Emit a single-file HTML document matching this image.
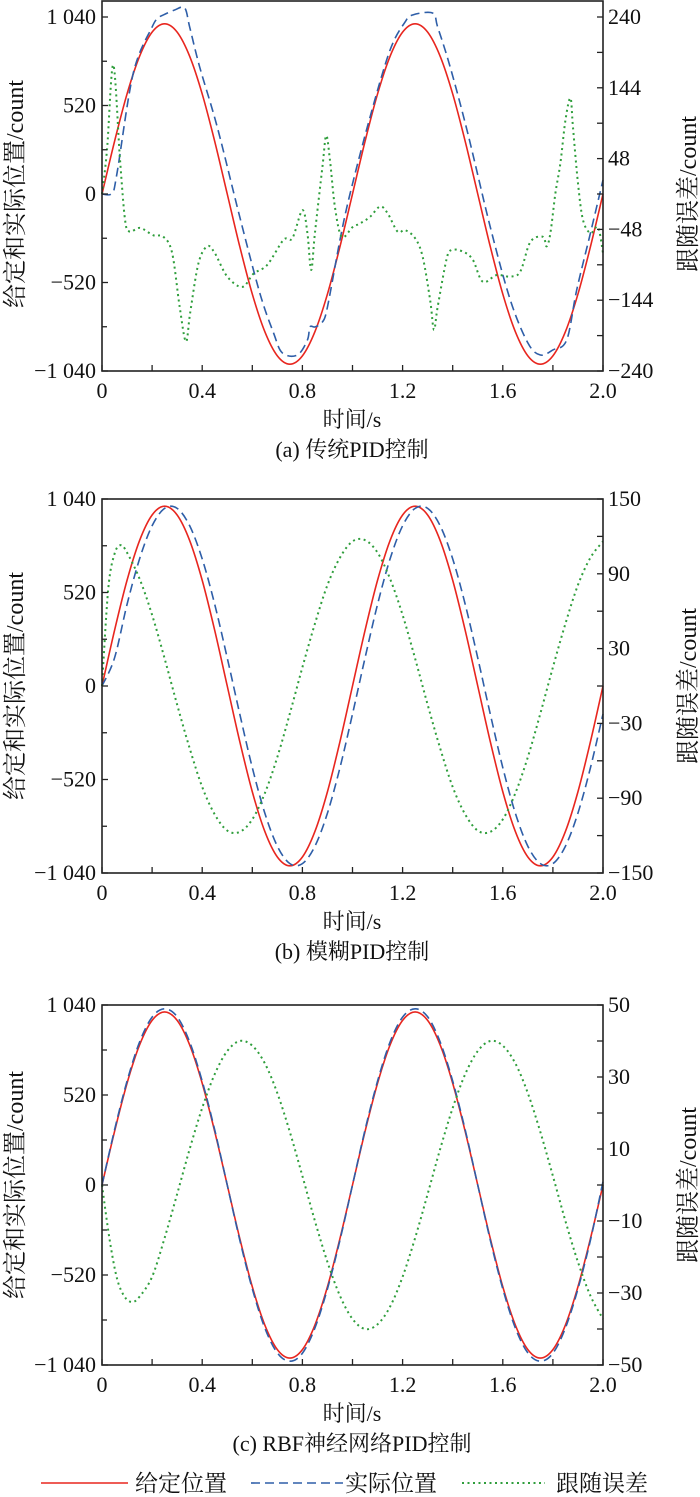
<!DOCTYPE html>
<html><head><meta charset="utf-8">
<style>
html,body{margin:0;padding:0;background:#fff;}
svg{display:block;}
text{font-family:"Liberation Serif","Noto Serif CJK SC","Noto Sans CJK SC",serif;fill:#111;}
</style></head>
<body>
<svg id="chart" width="700" height="1497" viewBox="0 0 700 1497" xmlns="http://www.w3.org/2000/svg">
<g id="legend">
  <g>
    <line x1="41" y1="1483" x2="128" y2="1483" stroke="#e8261f" stroke-width="1.6"/>
    <text x="135" y="1491" font-size="23">给定位置</text>
  </g>
  <g>
    <line x1="251" y1="1483" x2="343" y2="1483" stroke="#2e5ea8" stroke-width="1.6" stroke-dasharray="9,5"/>
    <text x="345" y="1491" font-size="23">实际位置</text>
  </g>
  <g>
    <line x1="462" y1="1483" x2="545" y2="1483" stroke="#2f9e3c" stroke-width="2" stroke-dasharray="2,3.5"/>
    <text x="556" y="1491" font-size="23">跟随误差</text>
  </g>
</g>
</svg>
<script>
// ---------- shared data ----------
const xTicks = [0,0.2,0.4,0.6,0.8,1.0,1.2,1.4,1.6,1.8,2.0];
const xTickLabels = ["0","","0.4","","0.8","","1.2","","1.6","","2.0"];
const leftTicks = [1040,780,520,260,0,-260,-520,-780,-1040];
const leftTickLabels = ["1 040","","520","","0","","−520","","−1 040"];
const tGrid = [0,0.05,0.1,0.15,0.2,0.25,0.3,0.35,0.4,0.45,0.5,0.55,0.6,0.65,0.7,0.75,0.8,0.85,0.9,0.95,1.0,1.05,1.1,1.15,1.2,1.25,1.3,1.35,1.4,1.45,1.5,1.55,1.6,1.65,1.7,1.75,1.8,1.85,1.9,1.95,2.0];
const givenValues = [0,309,588,809,951,1000,951,809,588,309,0,-309,-588,-809,-951,-1000,-951,-809,-588,-309,0,309,588,809,951,1000,951,809,588,309,0,-309,-588,-809,-951,-1000,-951,-809,-588,-309,0];

// ---------- panel (a) ----------
const aRightTicks = [240,192,144,96,48,0,-48,-96,-144,-192,-240];
const aRightTickLabels = ["240","","144","","48","","−48","","−144","","−240"];
const aActualT = [0,0.04,0.06,0.125,0.2,0.225,0.245,0.29,0.33,0.35,0.39,0.46,0.55,0.63,0.685,0.72,0.78,0.82,0.83,0.85,0.88,0.9,0.95,0.99,1.07,1.15,1.21,1.24,1.32,1.34,1.39,1.46,1.55,1.63,1.7,1.75,1.8,1.855,1.895,1.95,2.0];
const aActualV = [0,5,123,711,981,1034,1052,1081,1093,981,746,394,-135,-582,-817,-934,-946,-858,-781,-781,-752,-664,-270,0,452,846,1011,1052,1063,981,746,358,-194,-623,-875,-946,-916,-858,-564,-229,82];
const aErrorT = [0,0.02,0.045,0.072,0.092,0.11,0.152,0.205,0.245,0.28,0.31,0.335,0.352,0.385,0.42,0.45,0.5,0.56,0.605,0.66,0.725,0.76,0.8,0.82,0.835,0.85,0.88,0.895,0.91,0.93,0.957,1.0,1.03,1.07,1.11,1.14,1.18,1.21,1.25,1.28,1.31,1.325,1.34,1.375,1.395,1.44,1.48,1.52,1.575,1.63,1.67,1.71,1.76,1.775,1.79,1.81,1.83,1.85,1.87,1.88,1.9,1.92,1.95,1.98,2.0];
const aErrorV = [0,60,175,46,-35,-51,-46,-56,-58,-80,-153,-200,-161,-94,-71,-80,-112,-126,-108,-96,-62,-60,-22,-53,-103,-53,37,79,46,-18,-58,-45,-40,-31,-17,-26,-51,-49,-60,-85,-144,-184,-153,-89,-76,-78,-89,-119,-110,-112,-105,-65,-58,-71,-53,1,42,100,130,91,15,-35,-53,-45,-80];

// ---------- panel (b) ----------
const bRightTicks = [150,120,90,60,30,0,-30,-60,-90,-120,-150];
const bRightTickLabels = ["150","","90","","30","","−30","","−90","","−150"];
const bActualV = [0,156,454,707,891,988,988,891,707,454,156,-156,-454,-707,-891,-988,-988,-891,-707,-454,-156,156,454,707,891,988,988,891,707,454,156,-156,-454,-707,-891,-988,-988,-891,-707,-454,-156];
const bErrorT = [0,0.025,0.05,0.075,0.1,0.15,0.2,0.25,0.3,0.35,0.4,0.45,0.5,0.55,0.6,0.65,0.7,0.75,0.8,0.85,0.9,0.95,1.0,1.05,1.1,1.15,1.2,1.25,1.3,1.35,1.4,1.45,1.5,1.55,1.6,1.65,1.7,1.75,1.8,1.85,1.9,1.95,2.0];
const bErrorV = [0,78,106,113,107,86,57,22,-15,-50,-81,-103,-116,-117,-107,-86,-57,-22,15,50,81,103,116,117,107,86,57,22,-15,-50,-81,-103,-116,-117,-107,-86,-57,-22,15,50,81,103,116];

// ---------- panel (c) ----------
const cRightTicks = [50,40,30,20,10,0,-10,-20,-30,-40,-50];
const cRightTickLabels = ["50","","30","","10","","−10","","−30","","−50"];
const cActualV = [0,318,600,826,970,1018,972,826,600,318,0,-318,-600,-826,-970,-1018,-972,-826,-600,-318,0,318,600,826,970,1018,972,826,600,318,0,-318,-600,-826,-970,-1018,-972,-826,-600,-318,20];
const cErrorT = [0,0.03,0.06,0.09,0.12,0.15,0.2,0.25,0.3,0.35,0.4,0.45,0.5,0.55,0.6,0.65,0.7,0.75,0.8,0.85,0.9,0.95,1.0,1.05,1.1,1.15,1.2,1.25,1.3,1.35,1.4,1.45,1.5,1.55,1.6,1.65,1.7,1.75,1.8,1.85,1.9,1.95,2.0];
const cErrorV = [0,-15,-26,-31,-32.5,-31,-25.5,-14.7,-2.5,10,21.4,30.8,37.2,40,38.7,33.8,25.5,14.7,2.5,-10,-21.4,-30.8,-37.2,-40,-38.7,-33.8,-25.5,-14.7,-2.5,10,21.4,30.8,37.2,40,38.7,33.8,25.5,14.7,2.5,-10,-21.4,-30.8,-37.2];

const NS = "http://www.w3.org/2000/svg";
const svg = document.getElementById("chart");
function mk(tag, attrs, parent){
  const e = document.createElementNS(NS, tag);
  for (const k in attrs) e.setAttribute(k, attrs[k]);
  (parent||svg).appendChild(e);
  return e;
}
function smoothPath(pts){
  let d = "M" + pts[0][0].toFixed(2) + "," + pts[0][1].toFixed(2);
  for (let i=0;i<pts.length-1;i++){
    const p0 = pts[i-1]||pts[i], p1 = pts[i], p2 = pts[i+1], p3 = pts[i+2]||p2;
    const c1 = [p1[0]+(p2[0]-p0[0])/6, p1[1]+(p2[1]-p0[1])/6];
    const c2 = [p2[0]-(p3[0]-p1[0])/6, p2[1]-(p3[1]-p1[1])/6];
    d += " C"+c1[0].toFixed(2)+","+c1[1].toFixed(2)+" "+c2[0].toFixed(2)+","+c2[1].toFixed(2)+" "+p2[0].toFixed(2)+","+p2[1].toFixed(2);
  }
  return d;
}

function drawPanel(cfg){
  const g = mk("g", {});
  
  
  const L=102, R=603;
  const xS = t => L + (t/2)*(R-L);
  const yL = v => cfg.y0 - v*(cfg.y0-cfg.yTop)/1040;
  const yR = v => cfg.y0 - v*(cfg.y0-cfg.yTop)/cfg.rMax;

  const red = mk("path", {d: smoothPath(tGrid.map((t,i)=>[xS(t), yL(givenValues[i])])), fill:"none", stroke:"#e8261f", "stroke-width":"1.6"}, g);
  
  
  const blue = mk("path", {d: smoothPath(cfg.actT.map((t,i)=>[xS(t), yL(cfg.actV[i])])), fill:"none", stroke:"#2e5ea8", "stroke-width":"1.6", "stroke-dasharray":"9,5"}, g);
  
  
  const green = mk("path", {d: smoothPath(cfg.errT.map((t,i)=>[xS(t), yR(cfg.errV[i])])), fill:"none", stroke:"#2f9e3c", "stroke-width":"2", "stroke-dasharray":"2,3.5"}, g);
  
  

  const frame = mk("rect", {x:L, y:cfg.boxTop, width:R-L, height:cfg.bottom-cfg.boxTop, fill:"none", stroke:"#222", "stroke-width":"1.6"}, g);
  
  

  xTicks.forEach((t,i)=>{
    const x = xS(t);
    const tk = mk("line", {x1:x, y1:cfg.bottom, x2:x, y2:cfg.bottom-6, stroke:"#222", "stroke-width":"1.3"}, g);
    
    
    if (xTickLabels[i]) {
      const tx = mk("text", {x:x, y:cfg.bottom+27, "font-size":"22", "text-anchor":"middle"}, g);
      tx.textContent = xTickLabels[i];
      
      
    }
  });
  leftTicks.forEach((v,i)=>{
    const y = yL(v);
    const len = leftTickLabels[i] ? 6 : 5;
    const tk = mk("line", {x1:L, y1:y, x2:L+len, y2:y, stroke:"#222", "stroke-width":"1.3"}, g);
    
    
    if (leftTickLabels[i]) {
      const tx = mk("text", {x:96, y:y+7, "font-size":"22", "text-anchor":"end"}, g);
      tx.textContent = leftTickLabels[i];
      
      
    }
  });
  cfg.rTicks.forEach((v,i)=>{
    const y = yR(v);
    const tk = mk("line", {x1:R, y1:y, x2:R-6, y2:y, stroke:"#222", "stroke-width":"1.3"}, g);
    
    
    if (cfg.rLabels[i]) {
      const tx = mk("text", {x:608, y:y+7, "font-size":"22", "text-anchor":"start"}, g);
      tx.textContent = cfg.rLabels[i];
      
      
    }
  });
  const mid = (cfg.yTop + cfg.bottom)/2;
  const lt = mk("text", {x:0, y:0, "font-size":"24", "text-anchor":"middle", transform:"translate(23,"+mid+") rotate(-90)"}, g);
  lt.textContent = "给定和实际位置/count";
  
  
  const rt = mk("text", {x:0, y:0, "font-size":"24", "text-anchor":"middle", transform:"translate(696,"+mid+") rotate(-90)"}, g);
  rt.textContent = "跟随误差/count";
  
  
  const xt = mk("text", {x:352, y:cfg.bottom+56, "font-size":"22", "text-anchor":"middle"}, g);
  xt.textContent = "时间/s";
  
  
  const cap = mk("text", {x:352, y:cfg.bottom+86, "font-size":"22", "text-anchor":"middle"}, g);
  cap.textContent = cfg.caption;
  
  
}

drawPanel({name:"panel-a-traditional-pid", boxTop:1, yTop:17, y0:194, bottom:371, rMax:240,
  rTicks:aRightTicks, rLabels:aRightTickLabels, actT:aActualT, actV:aActualV, errT:aErrorT, errV:aErrorV, caption:"(a) 传统PID控制"});
drawPanel({name:"panel-b-fuzzy-pid", boxTop:499, yTop:499, y0:686, bottom:873, rMax:150,
  rTicks:bRightTicks, rLabels:bRightTickLabels, actT:tGrid, actV:bActualV, errT:bErrorT, errV:bErrorV, caption:"(b) 模糊PID控制"});
drawPanel({name:"panel-c-rbf-pid", boxTop:1005, yTop:1005, y0:1185, bottom:1365, rMax:50,
  rTicks:cRightTicks, rLabels:cRightTickLabels, actT:tGrid, actV:cActualV, errT:cErrorT, errV:cErrorV, caption:"(c) RBF神经网络PID控制"});
</script>
</body></html>
